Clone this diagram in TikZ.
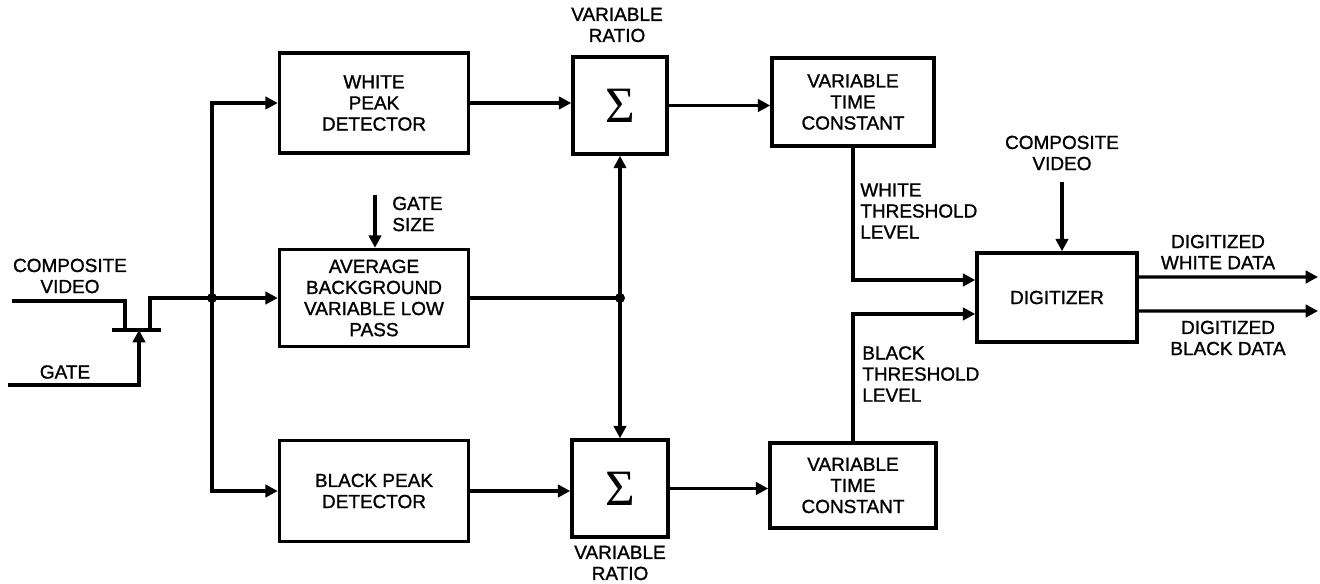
\documentclass[tikz,border=0pt]{standalone}
\usepackage{fontspec}
\setmainfont{Liberation Sans}[BoldFont=Liberation Sans, BoldFeatures={FakeBold=1.2}]
\newfontfamily\sigfont{Liberation Serif}
\usepackage{tikz}
\usetikzlibrary{positioning}
\usetikzlibrary{arrows.meta, calc}
\tikzstyle{block} = [draw, line width=2pt, align=center, inner sep=2pt, font=\fontsize{10.8}{12}\selectfont\bfseries]
\tikzstyle{sumbox} = [draw, line width=2pt, inner sep=0pt, font=\sigfont\fontsize{29}{29}\selectfont]
\tikzstyle{wire} = [line width=1.8pt]
\tikzstyle{arrow} = [line width=1.8pt, -{Triangle[length=7pt,width=7pt]}]
\tikzstyle{lbl} = [align=center, inner sep=0pt, font=\fontsize{10.8}{12}\selectfont\bfseries]

\begin{document}
\begin{tikzpicture}[x=0.02cm, y=-0.02cm]
      \useasboundingbox (0,0) rectangle (1320,584);
      %%%%%%%%%%%%%%%%%%%%%%%%%%%%%%%%%%%%%%%
      \node (wpd) at (374,103) [block, minimum width=3.78cm, minimum height=2cm] {WHITE\\PEAK\\DETECTOR};
      \node (avg) at (374,298) [block, minimum width=3.78cm, minimum height=1.94cm] {AVERAGE\\BACKGROUND\\VARIABLE LOW\\PASS};
      \node (bpd) at (374,491) [block, minimum width=3.78cm, minimum height=2.02cm] {BLACK PEAK\\DETECTOR};
      \node (sig1) at (620,105.5) [sumbox, minimum width=1.88cm, minimum height=1.94cm] {Σ};
      \node (sig2) at (620,488.5) [sumbox, minimum width=1.92cm, minimum height=1.94cm] {Σ};
      \node (vtc1) at (853,102) [block, minimum width=3.24cm, minimum height=1.76cm] {VARIABLE\\TIME\\CONSTANT};
      \node (vtc2) at (853,485.5) [block, minimum width=3.32cm, minimum height=1.7cm] {VARIABLE\\TIME\\CONSTANT};
      \node (dig) at (1057,297.5) [block, minimum width=3.2cm, minimum height=1.78cm] {DIGITIZER};
      %%%%%%%%%%%%%%%%%%%%%%%%%%%%%%%%%%%%%%%
      \coordinate (cvin) at (12,301);
      \coordinate (gin) at (8,385);
      \coordinate (j1) at (212,298);
      \coordinate (j2) at (620,298);
      \coordinate (gs) at (375,195);
      \coordinate (cv2) at (1062,182);
      \coordinate (wout) at (1318,277);
      \coordinate (bout) at (1318,311);
      %\node (sw) at (136,330) {};
      \draw[wire] (cvin) -- (125,301) -- (125,330);
      \draw[wire] (112,330) -- (161,330);
      \draw[arrow] (gin) -| (139,330);
      \draw[arrow] (150,330) |- (avg.west);
      \draw[arrow] (j1) |- (wpd.west);
      \draw[arrow] (j1) |- (bpd.west);
      \draw[arrow] (gs) -- (gs |- avg.north);
      \draw[arrow] (wpd.east) -- (sig1.west |- wpd.east);
      \draw[arrow] (bpd.east) -- (sig2.west |- bpd.east);
      \draw[arrow] (sig1.east) -- (vtc1.west |- sig1.east);
      \draw[arrow] (sig2.east) -- (vtc2.west |- sig2.east);
      \draw[wire] (avg.east) -- (j2);
      \draw[arrow] (j2) -- (sig1.south);
      \draw[arrow] (j2) -- (sig2.north);
      \draw[arrow] (vtc1.south) |- ([yshift=0.35cm]dig.west);
      \draw[arrow] (vtc2.north) |- ([yshift=-0.33cm]dig.west);
      \draw[arrow] (cv2) -- (cv2 |- dig.north);
      \draw[arrow] ([yshift=0.41cm]dig.east) -- (wout);
      \draw[arrow] ([yshift=-0.27cm]dig.east) -- (bout);
      \fill (j1) circle (0.1cm);
      \fill (j2) circle (0.1cm);
      %%%%%%%%%%%%%%%%%%%%%%%%%%%%%%%%%%%%%%%
      \node (cvtxt) at (70,276) [lbl] {COMPOSITE\\VIDEO};
      \node (gtxt) at (65,372) [lbl] {GATE};
      \node (gstxt) at (392,214) [lbl, anchor=west, align=left] {GATE\\SIZE};
      \node (vr1) at (617,25) [lbl] {VARIABLE\\RATIO};
      \node (vr2) at (620,563) [lbl] {VARIABLE\\RATIO};
      \node (wtl) at (860,211) [lbl, anchor=west, align=left] {WHITE\\THRESHOLD\\LEVEL};
      \node (btl) at (862,374) [lbl, anchor=west, align=left] {BLACK\\THRESHOLD\\LEVEL};
      \node (cv2txt) at (1062,153) [lbl] {COMPOSITE\\VIDEO};
      \node (dwd) at (1218,252) [lbl] {DIGITIZED\\WHITE DATA};
      \node (dbd) at (1228,338) [lbl] {DIGITIZED\\BLACK DATA};
\end{tikzpicture}
\end{document}
